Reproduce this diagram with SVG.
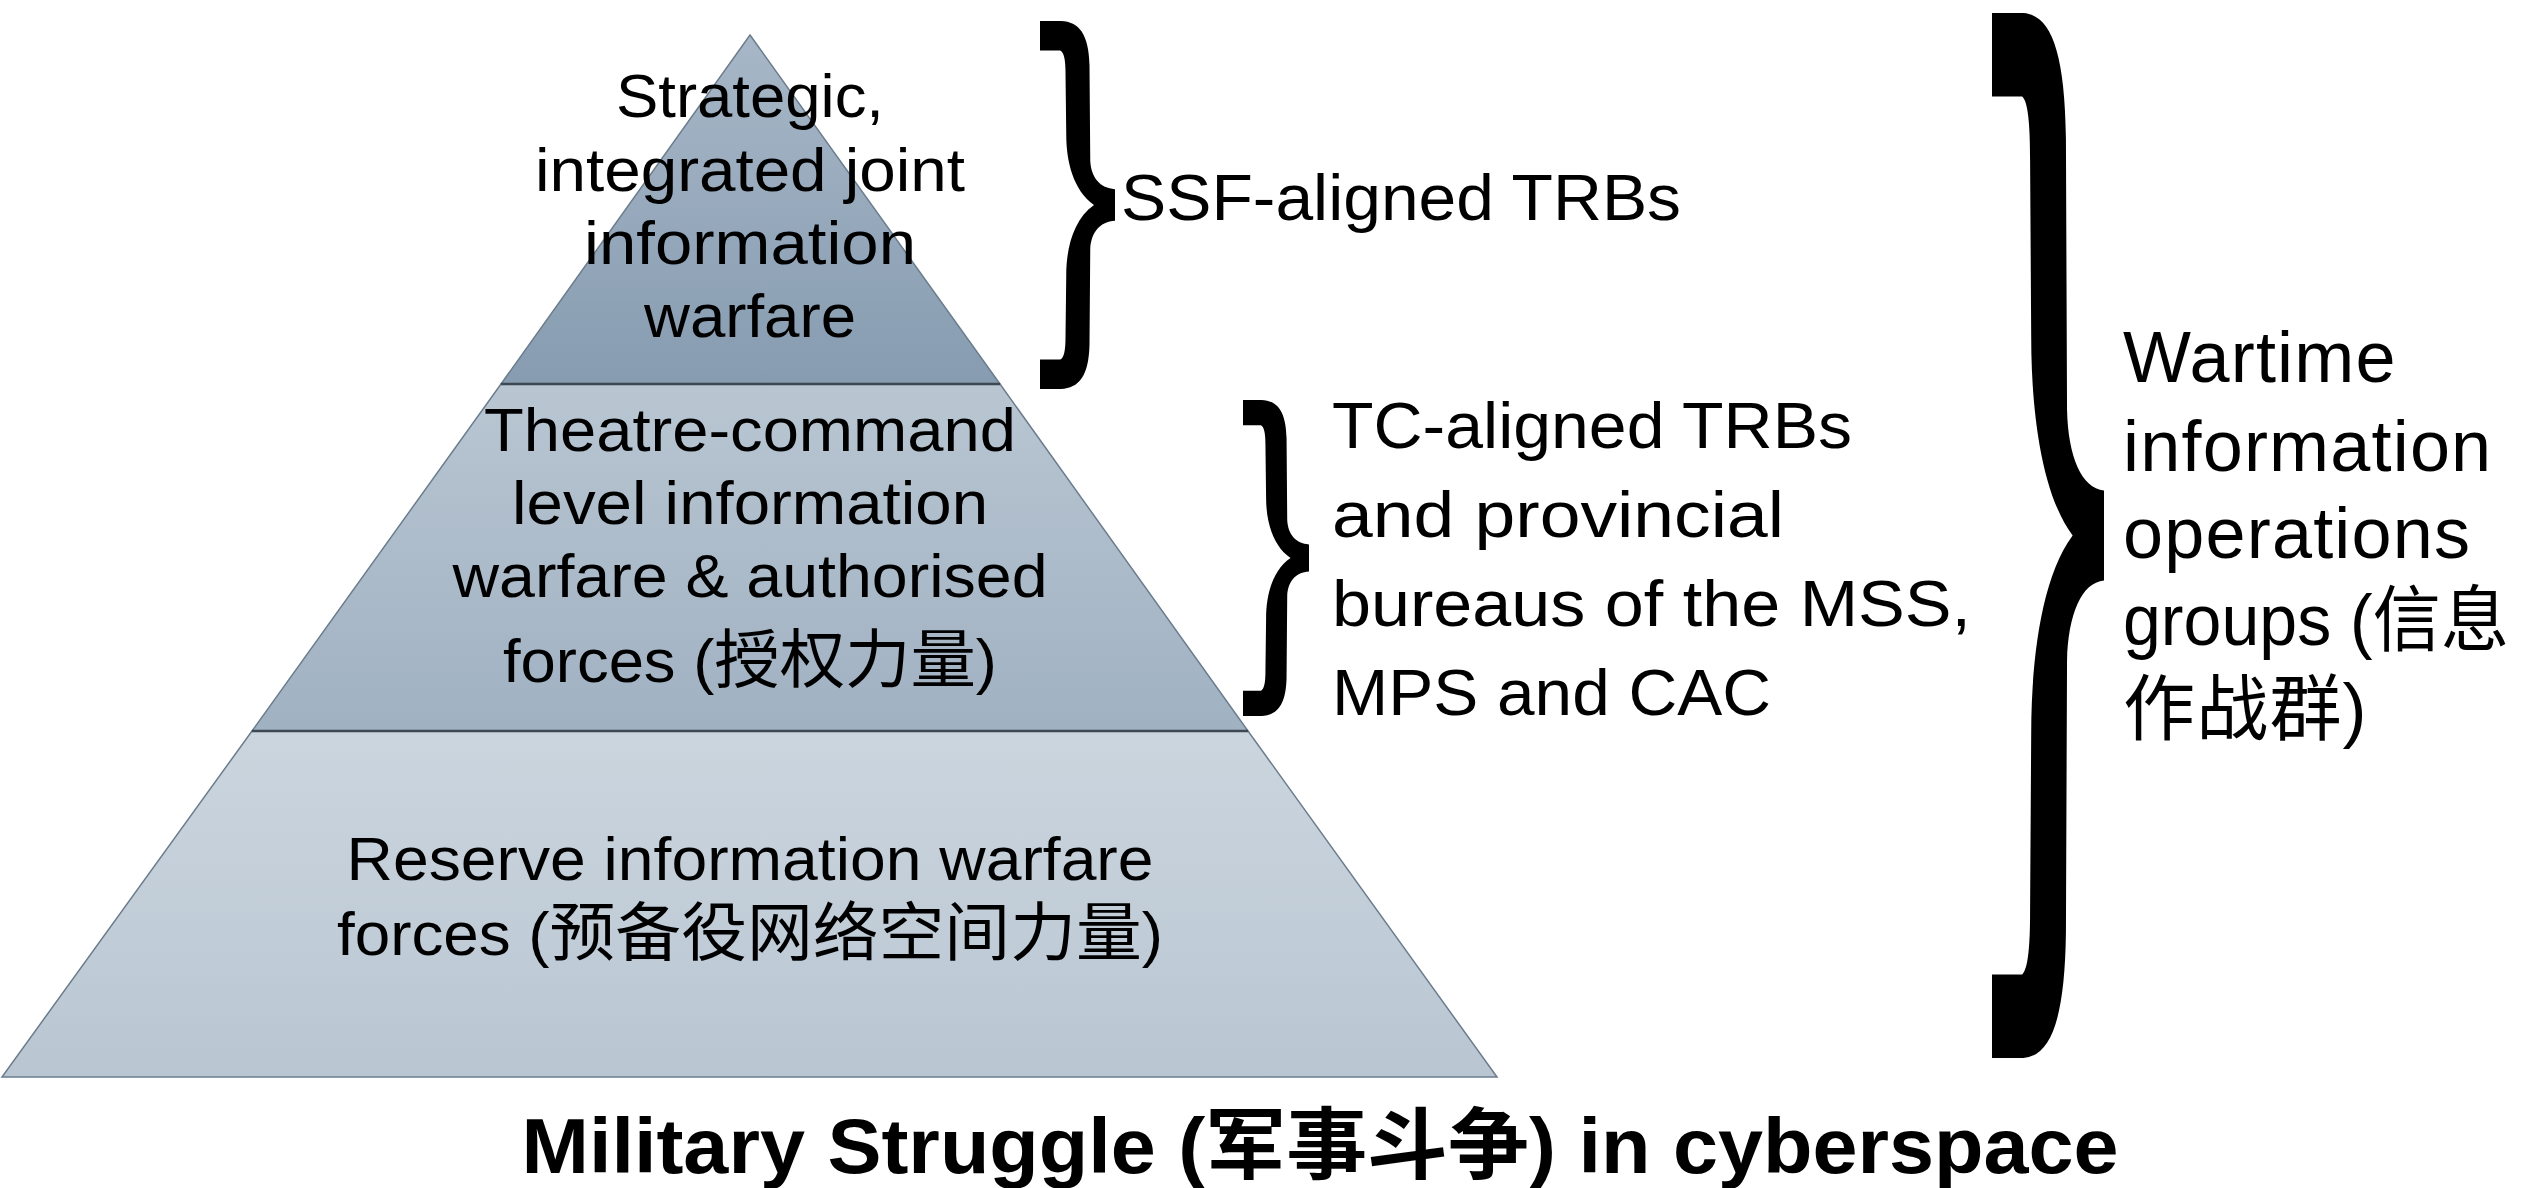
<svg xmlns="http://www.w3.org/2000/svg" width="2529" height="1188" viewBox="0 0 2529 1188">
  <style>
    .lbl { font-family: "Liberation Sans", "Noto Sans CJK SC", sans-serif; fill: #000; }
    .tier { font-size: 62px; text-anchor: middle; }
    .tier .cjk { font-size: 64px; }
    .side { font-size: 64px; }
    .war { font-size: 72px; letter-spacing: 1.2px; }
    .title { font-size: 78px; font-weight: bold; text-anchor: middle; }
    .edge { stroke: #6b7c8d; stroke-width: 1.5; }
    .sep { stroke: #3e4852; stroke-width: 2.5; }
  </style>
  <defs>
    <linearGradient id="gTop" x1="0" y1="0" x2="0" y2="1">
      <stop offset="0" stop-color="#a7b7c7"/>
      <stop offset="1" stop-color="#879cb1"/>
    </linearGradient>
    <linearGradient id="gMid" x1="0" y1="0" x2="0" y2="1">
      <stop offset="0" stop-color="#b9c6d2"/>
      <stop offset="1" stop-color="#a0b1c2"/>
    </linearGradient>
    <linearGradient id="gBot" x1="0" y1="0" x2="0" y2="1">
      <stop offset="0" stop-color="#cbd5de"/>
      <stop offset="1" stop-color="#b9c6d2"/>
    </linearGradient>
    <!-- right curly brace in a 100 x 1000 box, point at mid-height -->
    <path id="brace" d="M0,0 L28,0 C52,2 65,35 66,120 L67,380 C68,425 80,455 100,457 L100,543 C80,545 68,575 67,620 L66,880 C65,965 52,998 28,1000 L0,1000 L0,920 L27,920 C32,915 34,895 34,860 L35,690 C35,620 44,540 72,500 C44,460 35,380 35,310 L34,140 C34,105 32,85 27,80 L0,80 Z"/>
  </defs>

  <!-- pyramid tiers -->
  <g id="tier-strategic">
    <polygon points="750,35 1000,384 501,384" fill="url(#gTop)" class="edge"/>
    <text class="lbl tier" x="750" y="117" textLength="268" lengthAdjust="spacingAndGlyphs">Strategic,</text>
    <text class="lbl tier" x="750" y="191" textLength="430" lengthAdjust="spacingAndGlyphs">integrated joint</text>
    <text class="lbl tier" x="750" y="264" textLength="332" lengthAdjust="spacingAndGlyphs">information</text>
    <text class="lbl tier" x="750" y="337" textLength="212" lengthAdjust="spacingAndGlyphs">warfare</text>
  </g>

  <g id="tier-theatre">
    <polygon points="501,384 1000,384 1248,731 252,731" fill="url(#gMid)" class="edge"/>
    <text class="lbl tier" x="750" y="451" textLength="532" lengthAdjust="spacingAndGlyphs">Theatre-command</text>
    <text class="lbl tier" x="750" y="524" textLength="476" lengthAdjust="spacingAndGlyphs">level information</text>
    <text class="lbl tier" x="750" y="597" textLength="595" lengthAdjust="spacingAndGlyphs">warfare &amp; authorised</text>
    <text class="lbl tier" x="750" y="682" textLength="494" lengthAdjust="spacingAndGlyphs">forces (<tspan class="cjk">授权力量</tspan>)</text>
  </g>

  <g id="tier-reserve">
    <polygon points="252,731 1248,731 1497,1077 2,1077" fill="url(#gBot)" class="edge"/>
    <text class="lbl tier" x="750" y="880" textLength="807" lengthAdjust="spacingAndGlyphs">Reserve information warfare</text>
    <text class="lbl tier" x="750" y="955" textLength="826" lengthAdjust="spacingAndGlyphs">forces (<tspan class="cjk">预备役网络空间力量</tspan>)</text>
  </g>

  <!-- tier separators -->
  <g id="connectors">
    <line class="sep" x1="501" y1="384" x2="1000" y2="384"/>
    <line class="sep" x1="252" y1="731" x2="1248" y2="731"/>
  </g>

  <!-- braces and their labels -->
  <g id="ssf-trbs">
    <use href="#brace" transform="translate(1040,21) scale(0.75,0.368)"/>
    <text class="lbl side" x="1121" y="220" textLength="560" lengthAdjust="spacingAndGlyphs">SSF-aligned TRBs</text>
  </g>

  <g id="tc-trbs">
    <use href="#brace" transform="translate(1243,400) scale(0.66,0.316)"/>
    <text class="lbl side" x="1332" y="448" textLength="520" lengthAdjust="spacingAndGlyphs">TC-aligned TRBs</text>
    <text class="lbl side" x="1332" y="537" textLength="452" lengthAdjust="spacingAndGlyphs">and provincial</text>
    <text class="lbl side" x="1332" y="626" textLength="639" lengthAdjust="spacingAndGlyphs">bureaus of the MSS,</text>
    <text class="lbl side" x="1332" y="715" textLength="439" lengthAdjust="spacingAndGlyphs">MPS and CAC</text>
  </g>

  <g id="wartime-groups">
    <use href="#brace" transform="translate(1992,13) scale(1.12,1.045)"/>
    <text class="lbl war" x="2123" y="382">Wartime</text>
    <text class="lbl war" x="2123" y="471">information</text>
    <text class="lbl war" x="2123" y="558">operations</text>
    <text class="lbl war" x="2123" y="645" style="letter-spacing:0" textLength="386" lengthAdjust="spacingAndGlyphs">groups (信息</text>
    <text class="lbl war" x="2123" y="734">作战群)</text>
  </g>

  <g id="title">
    <text class="lbl title" x="1320" y="1173" textLength="1597" lengthAdjust="spacingAndGlyphs">Military Struggle (军事斗争) in cyberspace</text>
  </g>
</svg>
